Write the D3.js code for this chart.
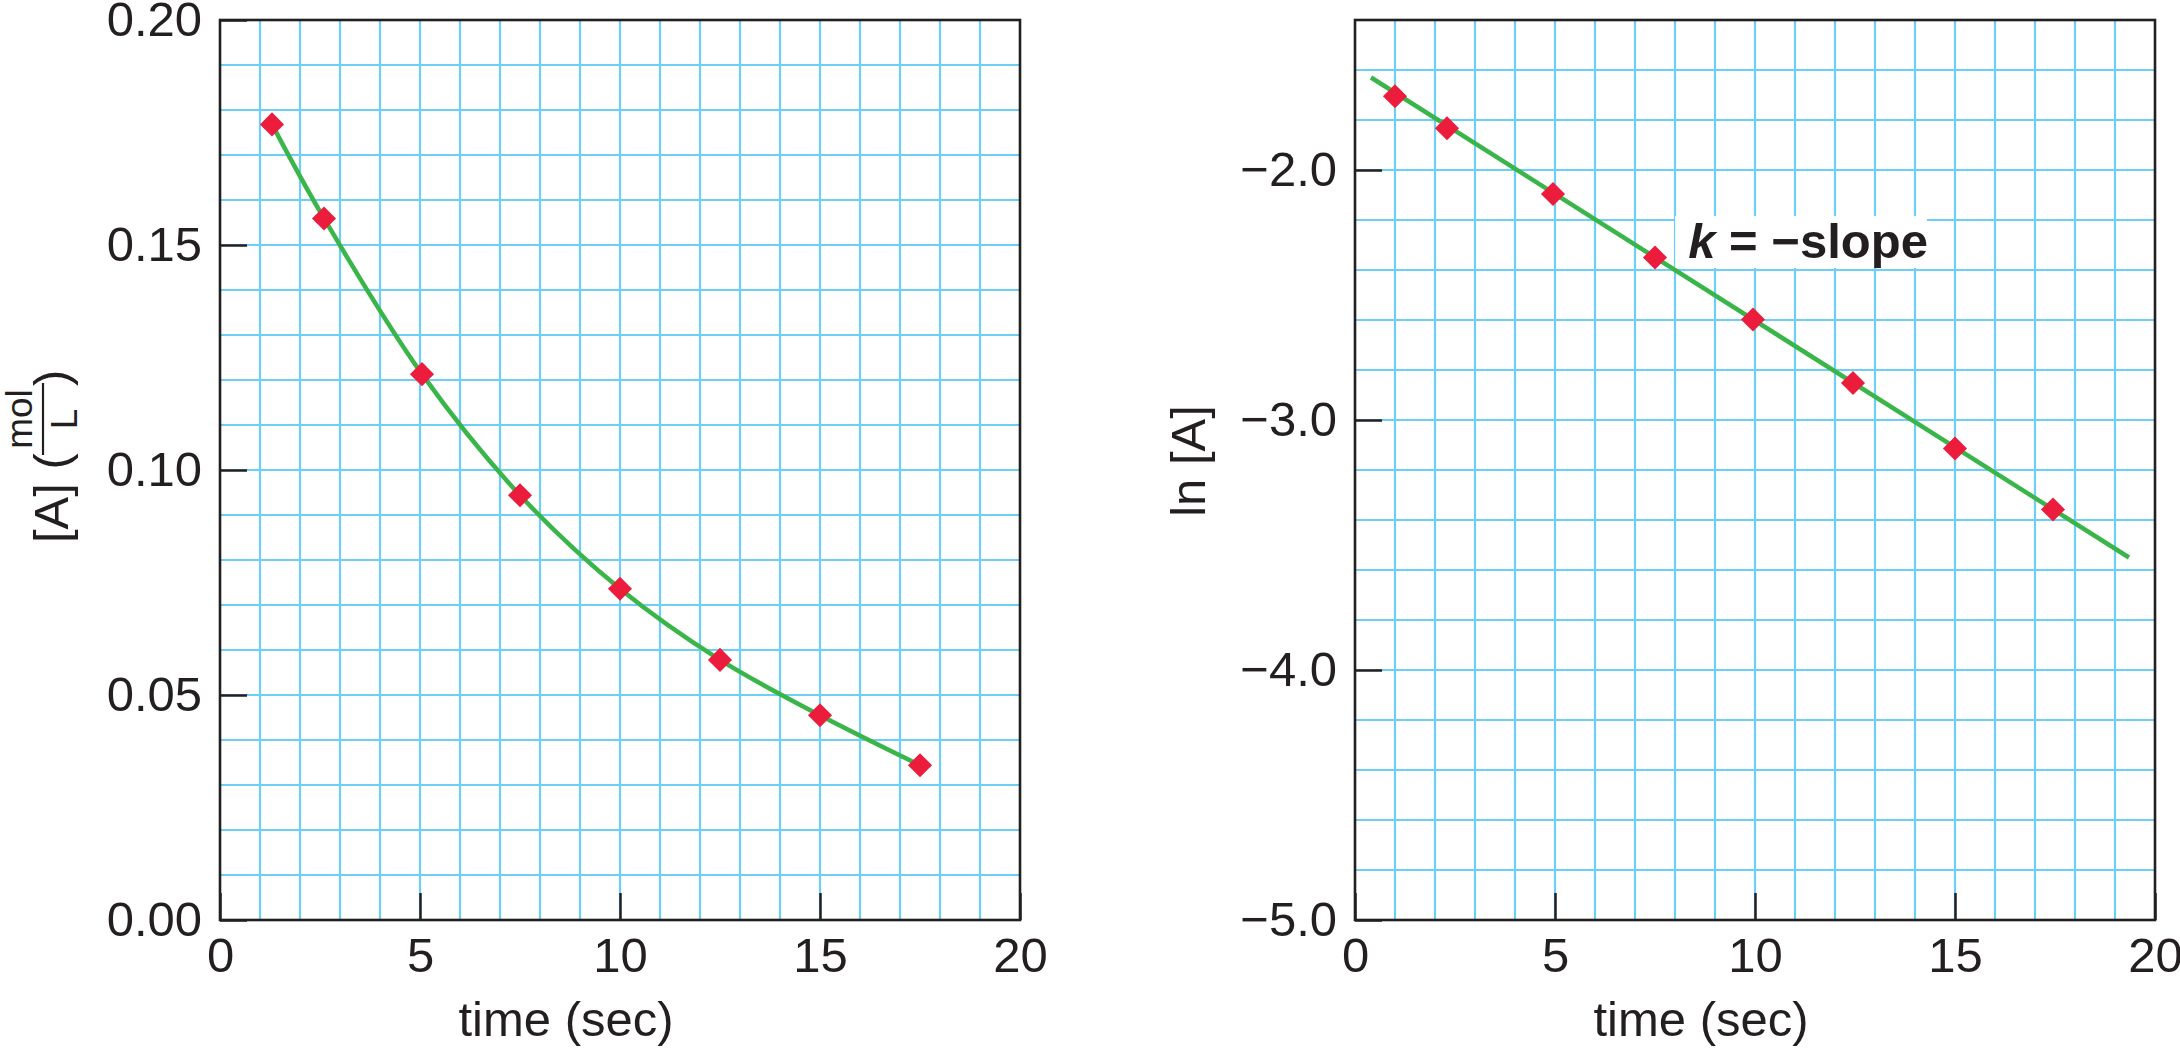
<!DOCTYPE html>
<html>
<head>
<meta charset="utf-8">
<script src="https://cdn.jsdelivr.net/npm/d3@7"></script>
<style>
  body { margin: 0; background: #fff; }
  text { font-family: "Liberation Sans", Arial, Helvetica, sans-serif; fill: #231f20; }
</style>
</head>
<body>
<div id="chart-area"></div>
<script>
// values
const concTimes = [1.3, 2.6, 5.05, 7.5, 10, 12.5, 15, 17.5];
const concValues = [0.1768, 0.1559, 0.1213, 0.0944, 0.0736, 0.0578, 0.0455, 0.0344];

const lnTimes = [1.0, 2.3, 4.95, 7.5, 9.95, 12.45, 15, 17.45];
const lnValues = [-1.705, -1.833, -2.096, -2.35, -2.598, -2.852, -3.114, -3.358];

// straight fit line on the ln plot (its two end points)
const fitTimes = [0.4, 19.35];
const fitValues = [-1.63, -3.55];

const timeTicks = [0, 5, 10, 15, 20];
const concTicks = [0, 0.05, 0.10, 0.15, 0.20];
const lnTicks = [-5, -4, -3, -2];

const W = 2180, H = 1048;
const plotW = 800, plotH = 900, marginTop = 20;
const ink = '#231f20';
const gridColor = '#6dcff6';
const green = '#39b54a';
const red = '#ec1c3d';
const fontSize = 49;

const svg = d3.select('#chart-area')
  .append('svg')
  .attr('width', W)
  .attr('height', H);

const makePanel = (offsetX, yDomain, gridStep, yTicks, yFormat) => {
  const g = svg.append('g')
    .attr('transform', 'translate(' + offsetX + ', ' + marginTop + ')');

  const x = d3.scaleLinear().domain([0, 20]).range([0, plotW]);
  const y = d3.scaleLinear().domain(yDomain).range([plotH, 0]);

  // grid
  const xGrid = d3.range(1, 20);
  g.selectAll('.vgrid').data(xGrid).enter()
    .append('line')
    .attr('class', 'vgrid')
    .attr('x1', (d) => x(d)).attr('x2', (d) => x(d))
    .attr('y1', 0).attr('y2', plotH)
    .attr('stroke', gridColor).attr('stroke-width', 2.2);

  const nY = Math.round((yDomain[1] - yDomain[0]) / gridStep);
  const yGrid = d3.range(1, nY).map((i) => yDomain[0] + i * gridStep);
  g.selectAll('.hgrid').data(yGrid).enter()
    .append('line')
    .attr('class', 'hgrid')
    .attr('x1', 0).attr('x2', plotW)
    .attr('y1', (d) => y(d)).attr('y2', (d) => y(d))
    .attr('stroke', gridColor).attr('stroke-width', 2.2);

  const xAxis = d3.axisBottom(x)
    .tickValues(timeTicks)
    .tickSizeInner(-27)
    .tickSizeOuter(0)
    .tickPadding(17);
  const yAxis = d3.axisLeft(y)
    .tickValues(yTicks)
    .tickFormat(yFormat)
    .tickSizeInner(-27)
    .tickSizeOuter(0)
    .tickPadding(18);

  const styleAxis = (sel) => {
    sel.select('.domain').remove();
    sel.selectAll('line').attr('stroke', ink).attr('stroke-width', 2.5);
    sel.selectAll('text')
      .attr('font-size', fontSize + 'px')
      .attr('font-family', '"Liberation Sans", Arial, Helvetica, sans-serif')
      .attr('fill', ink);
  };

  g.append('g')
    .attr('class', 'x axis')
    .attr('transform', 'translate(0, ' + plotH + ')')
    .call(xAxis)
    .call(styleAxis);

  g.append('g')
    .attr('class', 'y axis')
    .call(yAxis)
    .call(styleAxis);

  // frame
  g.append('rect')
    .attr('width', plotW)
    .attr('height', plotH)
    .attr('fill', 'none')
    .attr('stroke', ink)
    .attr('stroke-width', 2.6);

  // X label
  g.append('text')
    .attr('x', plotW / 2 - 54)
    .attr('y', plotH + 116)
    .attr('text-anchor', 'middle')
    .attr('font-size', fontSize + 'px')
    .text('time (sec)');

  return { g, x, y };
};

const diamond = d3.symbol(d3.symbolSquare, 290);

const drawPoints = (p, xs, ys) => {
  p.g.selectAll('.pt').data(xs).enter()
    .append('path')
    .attr('class', 'pt')
    .attr('d', diamond)
    .attr('fill', red)
    .attr('transform', (d, i) => 'translate(' + p.x(d) + ', ' + p.y(ys[i]) + ') rotate(45)');
};

// ----- left panel: [A] vs time
const leftPanel = makePanel(220, [0, 0.2], 0.01, concTicks, d3.format('.2f'));

const concLine = d3.line()
  .x((d, i) => leftPanel.x(concTimes[i]))
  .y((d) => leftPanel.y(d))
  .curve(d3.curveCatmullRom.alpha(0.5));

leftPanel.g.append('path')
  .attr('d', concLine(concValues))
  .attr('fill', 'none')
  .attr('stroke', green)
  .attr('stroke-width', 4.5);

drawPoints(leftPanel, concTimes, concValues);

// Y label with a stacked mol/L fraction
const yLab = svg.append('g')
  .attr('transform', 'translate(68, 460) rotate(-90)');
yLab.append('text')
  .attr('x', -83).attr('y', 0)
  .attr('font-size', fontSize + 'px')
  .text('[A] (');
yLab.append('text')
  .attr('x', 41).attr('y', -36)
  .attr('text-anchor', 'middle')
  .attr('font-size', '37px')
  .text('mol');
yLab.append('line')
  .attr('x1', 5).attr('x2', 77)
  .attr('y1', -25).attr('y2', -25)
  .attr('stroke', ink).attr('stroke-width', 2.2);
yLab.append('text')
  .attr('x', 41).attr('y', 9)
  .attr('text-anchor', 'middle')
  .attr('font-size', '37px')
  .text('L');
yLab.append('text')
  .attr('x', 74).attr('y', 0)
  .attr('font-size', fontSize + 'px')
  .text(')');

// ----- right panel: ln[A] vs time
const rightPanel = makePanel(1355, [-5, -1.4], 0.2, lnTicks, d3.format('.1f'));

const fitLine = d3.line()
  .x((d, i) => rightPanel.x(fitTimes[i]))
  .y((d) => rightPanel.y(d));

rightPanel.g.append('path')
  .attr('d', fitLine(fitValues))
  .attr('fill', 'none')
  .attr('stroke', green)
  .attr('stroke-width', 4.5);

drawPoints(rightPanel, lnTimes, lnValues);

svg.append('text')
  .attr('transform', 'translate(1205, 461) rotate(-90)')
  .attr('text-anchor', 'middle')
  .attr('font-size', fontSize + 'px')
  .text('ln [A]');

// k = -slope label on a white patch
const kLabel = rightPanel.g.append('g')
  .attr('transform', 'translate(' + rightPanel.x(8.33) + ', ' + rightPanel.y(-2.352) + ')');
const kBox = kLabel.append('rect').attr('fill', '#fff');
const kText = kLabel.append('text')
  .attr('font-size', fontSize + 'px')
  .attr('font-weight', 'bold');
kText.append('tspan').attr('font-style', 'italic').text('k');
kText.append('tspan').text(' = \u2212slope');
const bb = kText.node().getBBox();
kBox.attr('x', bb.x - 13).attr('y', bb.y + 2)
  .attr('width', bb.width + 12).attr('height', bb.height - 2);
</script>
</body>
</html>
